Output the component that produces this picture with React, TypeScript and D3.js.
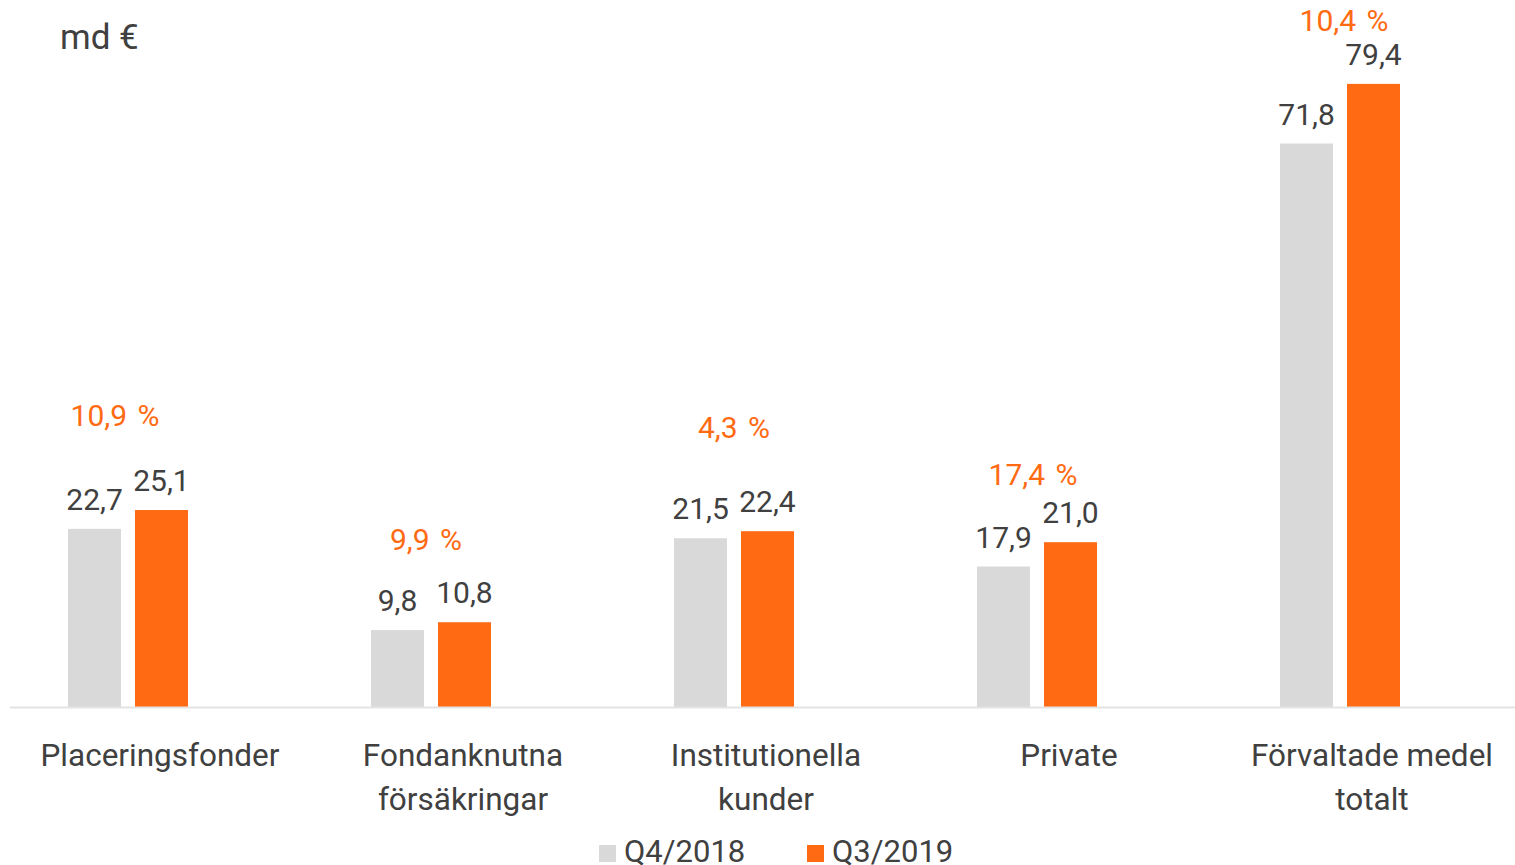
import { useEffect, useRef } from 'react'
import * as d3 from 'd3'

const categories = [
  ['Placeringsfonder'],
  ['Fondanknutna', 'försäkringar'],
  ['Institutionella', 'kunder'],
  ['Private'],
  ['Förvaltade medel', 'totalt'],
]
const series = ['Q4/2018', 'Q3/2019']
const q4_2018 = [22.7, 9.8, 21.5, 17.9, 71.8]
const q3_2019 = [25.1, 10.8, 22.4, 21.0, 79.4]
const growth = ['10,9 %', '9,9 %', '4,3 %', '17,4 %', '10,4 %']

// hand placed growth labels in the original (px above the orange bar, x shift)
const growthLift = [84, 72, 93, 57, 53]
const growthShift = [-13, -5, 0, -4, 4]

const W = 1515
const H = 865
const FONT = 'Roboto, "Open Sans", sans-serif'
const TEXT = '#404040'
const ORANGE = '#ff6a13'
const GRAY = '#d9d9d9'
const fmt = (v: number) => v.toFixed(1).replace('.', ',')

export default function App() {
  const svgRef = useRef<SVGSVGElement>(null)

  useEffect(() => {
    const svg = svgRef.current
    if (!svg) return
    const root = d3.select(svg)
    root.selectAll('*').remove()

    const base = 707
    const keys = categories.map(c => c.join(' '))
    const x = d3.scaleBand().domain(keys).range([-23.5, 1491.5])
    const xs = d3.scaleBand().domain(series).range([-60, 60]).paddingInner(0.209)
    const y = d3.scaleLinear().domain([0, 80]).range([base, base - 80 * 7.848])
    const colors = [GRAY, ORANGE]
    const values = [q4_2018, q3_2019]

    const g = root.append('g').attr('font-family', FONT)

    keys.forEach((k, i) => {
      const cx = x(k)! + x.bandwidth() / 2
      const grp = g.append('g').attr('transform', `translate(${cx},0)`)
      series.forEach((s, j) => {
        const v = values[j][i]
        grp.append('rect')
          .attr('x', xs(s)!).attr('width', xs.bandwidth())
          .attr('y', y(v)).attr('height', base - y(v))
          .attr('fill', colors[j])
        grp.append('text')
          .attr('x', xs(s)! + xs.bandwidth() / 2).attr('y', y(v) - 19)
          .attr('text-anchor', 'middle').attr('font-size', 30).attr('fill', TEXT)
          .text(fmt(v))
      })
      grp.append('text')
        .attr('x', growthShift[i]).attr('y', y(q3_2019[i]) - growthLift[i])
        .attr('text-anchor', 'middle').attr('font-size', 30).attr('fill', ORANGE)
        .attr('word-spacing', 3)
        .text(growth[i])
      const lbl = grp.append('text')
        .attr('text-anchor', 'middle').attr('font-size', 31.5).attr('fill', TEXT)
      categories[i].forEach((line, li) => {
        lbl.append('tspan').attr('x', 32).attr('y', 766 + li * 44).text(line)
      })
    })

    g.append('line')
      .attr('x1', 10).attr('x2', W).attr('y1', base + 0.5).attr('y2', base + 0.5)
      .attr('stroke', '#e3e3e3').attr('stroke-width', 2)

    g.append('text').attr('x', 60).attr('y', 49)
      .attr('font-size', 35).attr('fill', TEXT).text('md €')

    const legendX = [599, 807]
    series.forEach((s, j) => {
      g.append('rect').attr('x', legendX[j]).attr('y', 845)
        .attr('width', 17).attr('height', 17).attr('fill', colors[j])
      g.append('text').attr('x', legendX[j] + 25).attr('y', 862)
        .attr('font-size', 31).attr('fill', TEXT).text(s)
    })
  }, [])

  return (
    <svg ref={svgRef} width={W} height={H}
      style={{ position: 'absolute', left: 0, top: 0, background: '#fff' }} />
  )
}
